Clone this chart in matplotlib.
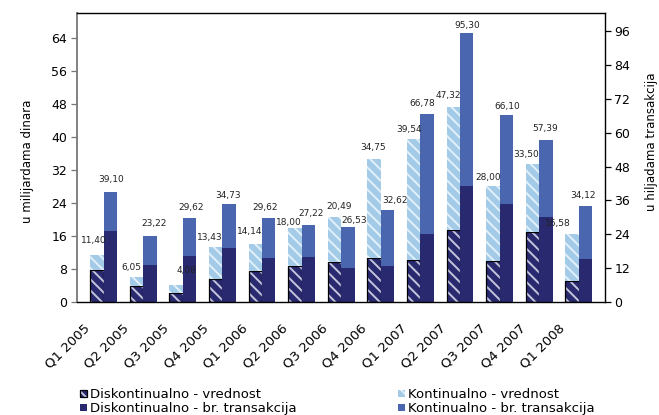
import matplotlib
matplotlib.use("Agg")
import matplotlib.pyplot as plt
import numpy as np
from matplotlib.patches import Patch
from matplotlib.legend_handler import HandlerTuple
from matplotlib.transforms import ScaledTranslation

plt.rcParams["font.family"] = ["DejaVu Sans"]
plt.rcParams["hatch.linewidth"] = 1.4

# Quarterly payment data
quarters = ["Q1 2005", "Q2 2005", "Q3 2005", "Q4 2005", "Q1 2006", "Q2 2006",
            "Q3 2006", "Q4 2006", "Q1 2007", "Q2 2007", "Q3 2007", "Q4 2007",
            "Q1 2008"]

# value, billions of dinars (left axis)
value_total = [11.40, 6.05, 4.08, 13.43, 14.14, 18.00, 20.49, 34.75, 39.54,
               47.32, 28.00, 33.50, 16.58]
value_disc = [7.8, 3.95, 2.2, 5.6, 7.5, 8.65, 9.7, 10.7, 10.2, 17.45, 9.9,
              17.0, 5.1]

# number of transactions, thousands (right axis)
trans_total = [39.10, 23.22, 29.62, 34.73, 29.62, 27.22, 26.53, 32.62, 66.78,
               95.30, 66.10, 57.39, 34.12]
trans_disc = [25.2, 13.1, 16.3, 19.1, 15.6, 15.9, 12.0, 12.75, 24.1, 41.1,
              34.7, 30.1, 15.2]

legend_labels = ["Diskontinualno - vrednost", "Diskontinualno - br. transakcija",
                 "Kontinualno - vrednost", "Kontinualno - br. transakcija"]

# label nudges in pixels (dx, dy of label centre above bar top)
value_label_dx = [-3.5, -5, 10, -5.5, -6, -6.5, 5, -0.7, -5, -5, -5, -6.7, -14]
value_label_dy = [14.3, 10, 14.5, 9.3, 12, 5.6, 10.8, 11.4, 9.6, 11.1, 8.8, 8.8, 9.6]
trans_label_dx = [1, 4.5, 2, -1.5, -4, 2.5, 6, 7, -5, 0, 1, -0.7, -3]
trans_label_dy = [12.3, 12.5, 11.1, 8.3, 11.1, 11.9, 7.1, 9.9, 9.8, 7.7, 9.4, 11.3, 10.7]

NAVY = "#29296f"
NAVY_HATCH = "#c4c4dc"
LIGHT = "#a3cbe8"
LIGHT_HATCH = "#e2f0fa"
BLUE = "#4a66ae"

W, H = 659, 415
fig = plt.figure(figsize=(W / 100, H / 100), dpi=100)
ax = fig.add_axes([77 / W, 1 - 302 / H, 528 / W, 289 / H])
ax2 = ax.twinx()

x = np.arange(len(quarters))
w = 0.34
value_cont = np.array(value_total) - np.array(value_disc)
trans_cont = np.array(trans_total) - np.array(trans_disc)

# value bars (left scale)
ax.bar(x - w / 2, value_disc, w, color=NAVY, edgecolor=NAVY_HATCH,
       hatch="\\\\\\", linewidth=0)
ax.bar(x - w / 2, value_disc, w, fill=False, edgecolor="black", linewidth=0.9)
ax.bar(x - w / 2, value_cont, w, bottom=value_disc, color=LIGHT,
       edgecolor=LIGHT_HATCH, hatch="\\\\\\", linewidth=0)

# transaction bars (right scale)
ax2.bar(x + w / 2, trans_disc, w, color=NAVY, linewidth=0)
ax2.bar(x + w / 2, trans_cont, w, bottom=trans_disc, color=BLUE, linewidth=0)

# total labels, all drawn on the top axes so they sit above every bar
fmt = lambda v: f"{v:.2f}".replace(".", ",")
for i, v in enumerate(value_total):
    ax2.annotate(fmt(v), xy=(x[i] - w / 2, v), xycoords=ax.transData,
                 xytext=(value_label_dx[i], value_label_dy[i]),
                 textcoords="offset pixels", ha="center", va="center",
                 fontsize=6.5, color="#222222")
for i, v in enumerate(trans_total):
    ax2.annotate(fmt(v), xy=(x[i] + w / 2, v),
                 xytext=(trans_label_dx[i], trans_label_dy[i]),
                 textcoords="offset pixels", ha="center", va="center",
                 fontsize=6.5, color="#222222")

ax.set_xlim(-0.67, 12.66)
ax.set_ylim(0, 70)
ax2.set_ylim(0, 102.4)
ax.set_yticks(range(0, 65, 8))
ax2.set_yticks(range(0, 97, 12))

# spines
for s in ["top", "right", "bottom"]:
    ax.spines[s].set_visible(False)
ax.spines["left"].set_color("#777777")
ax.spines["left"].set_linewidth(1.3)
ax2.spines["left"].set_visible(False)
for s in ["top", "right", "bottom"]:
    ax2.spines[s].set_color("black")
    ax2.spines[s].set_linewidth(1.0)

ax.tick_params(axis="y", direction="out", length=4, width=0.9,
               color="#777777", labelsize=9, pad=3)
ax2.tick_params(axis="y", direction="out", length=4.3, width=0.9,
                color="black", labelsize=9, pad=2.5)

ax.set_xticks(x)
ax.set_xticklabels(quarters, rotation=45, ha="right", va="top",
                   rotation_mode="anchor", fontsize=9.5)
ax.tick_params(axis="x", length=0, pad=14)
shift = ScaledTranslation(-20.5 / 100, 0, fig.dpi_scale_trans)
for lab in ax.get_xticklabels():
    lab.set_transform(lab.get_transform() + shift)

ax.set_ylabel("u milijardama dinara", fontsize=8.5)
ax.yaxis.set_label_coords(-0.081, 0.488)
ax2.set_ylabel("u hiljadama transakcija", fontsize=8.5)
ax2.yaxis.set_label_coords(1.075, 0.554)

h_disc_val = (Patch(facecolor=NAVY, edgecolor=NAVY_HATCH, hatch="\\\\\\", linewidth=0),
              Patch(fill=False, edgecolor="black", linewidth=0.9))
h_disc_tr = Patch(facecolor=NAVY, linewidth=0)
h_cont_val = Patch(facecolor=LIGHT, edgecolor=LIGHT_HATCH, hatch="\\\\\\", linewidth=0)
h_cont_tr = Patch(facecolor=BLUE, linewidth=0)

fig.legend([h_disc_val, h_disc_tr, h_cont_val, h_cont_tr], legend_labels,
           ncol=2, loc="upper left", bbox_to_anchor=(80 / W, 1 - 388 / H),
           frameon=False, fontsize=9.5, handlelength=0.5, handleheight=0.5,
           handletextpad=0.25, columnspacing=7.7, labelspacing=0.1,
           borderpad=0, borderaxespad=0,
           handler_map={tuple: HandlerTuple(ndivide=1)})

fig.savefig("out.png", dpi=100)
